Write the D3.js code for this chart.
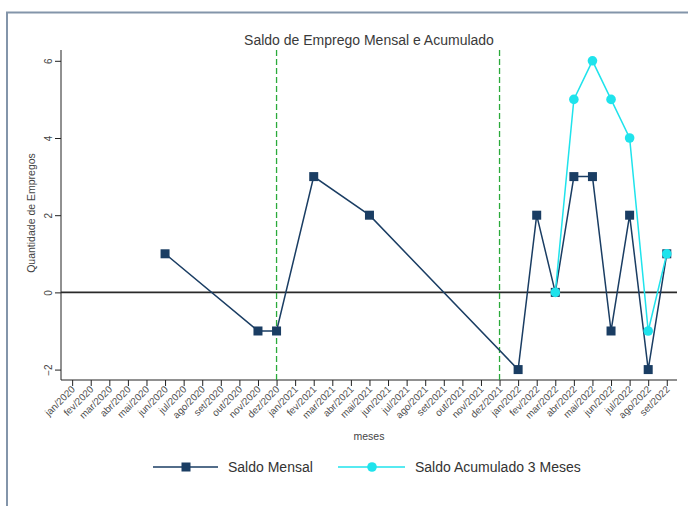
<!DOCTYPE html>
<html>
<head>
<meta charset="utf-8">
<script src="https://cdn.jsdelivr.net/npm/d3@7"></script>
<style>
  html, body { margin: 0; padding: 0; background: #fff; }
  svg { display: block; }
  text { font-family: "Liberation Sans", Arial, sans-serif; }
</style>
</head>
<body>
<svg id="chart" width="688" height="506"></svg>
<script>
const months = ["jan/2020","fev/2020","mar/2020","abr/2020","mai/2020","jun/2020","jul/2020","ago/2020","set/2020","out/2020","nov/2020","dez/2020",
  "jan/2021","fev/2021","mar/2021","abr/2021","mai/2021","jun/2021","jul/2021","ago/2021","set/2021","out/2021","nov/2021","dez/2021",
  "jan/2022","fev/2022","mar/2022","abr/2022","mai/2022","jun/2022","jul/2022","ago/2022","set/2022"];
const saldoMensal = [null,null,null,null,null,1,null,null,null,null,-1,-1,
  null,3,null,null,2,null,null,null,null,null,null,null,
  -2,2,0,3,3,-1,2,-2,1];
const saldoAcum3 = [null,null,null,null,null,null,null,null,null,null,null,null,
  null,null,null,null,null,null,null,null,null,null,null,null,
  null,null,0,5,6,5,4,-1,1];
const yTicks = [-2,0,2,4,6];
const refLines = ["dez/2020","dez/2021"];

const svg = d3.select("#chart");
const navy = "#1a3d63", cyan = "#1fe3ec";

// outer frame
svg.append("rect").attr("x",7).attr("y",12.5).attr("width",700).attr("height",520)
  .attr("fill","#fff").attr("stroke","#8395aa").attr("stroke-width",2);

const x = d3.scaleLinear().domain([-0.6, 32.55]).range([61, 677]);
const y = d3.scaleLinear().domain([-2.27, 6.28]).range([380, 50]);

// title
svg.append("text").attr("x",369).attr("y",45).attr("text-anchor","middle")
  .attr("font-size",14).attr("fill","#3a3a3a").text("Saldo de Emprego Mensal e Acumulado");

// y axis
const yAxis = svg.append("g").attr("transform","translate(61,0)")
  .call(d3.axisLeft(y).tickValues(yTicks).tickSize(6).tickFormat(d3.format("d")));
yAxis.select(".domain").attr("stroke","#222").attr("d","M0,50V380");
yAxis.selectAll(".tick line").attr("stroke","#222");
yAxis.selectAll(".tick text").attr("font-size",10).attr("fill","#444")
  .attr("text-anchor","middle").attr("x",0).attr("dy",0)
  .attr("transform","translate(-13,0) rotate(-90) translate(0,3.5)");

svg.append("text").attr("transform","translate(35,213) rotate(-90)")
  .attr("text-anchor","middle").attr("font-size",10.5).attr("fill","#444")
  .text("Quantidade de Empregos");

// x axis
const xAxis = svg.append("g").attr("transform","translate(0,380)")
  .call(d3.axisBottom(x).tickValues(d3.range(months.length)).tickSize(6).tickFormat(i => months[i]));
xAxis.select(".domain").attr("stroke","#222").attr("d","M61,0H677");
xAxis.selectAll(".tick line").attr("stroke","#222");
xAxis.selectAll(".tick text").attr("font-size",9.8).attr("fill","#505050")
  .attr("text-anchor","end").attr("dy",0).attr("y",0)
  .attr("transform","translate(3,10) rotate(-45)");

svg.append("text").attr("x",369).attr("y",440).attr("text-anchor","middle")
  .attr("font-size",10.5).attr("fill","#444").text("meses");

// zero line
svg.append("line").attr("x1",61).attr("x2",677).attr("y1",y(0)).attr("y2",y(0))
  .attr("stroke","#2a2a2a").attr("stroke-width",1.6);

// reference lines
refLines.forEach(m => {
  const xi = x(months.indexOf(m));
  svg.append("line").attr("x1",xi).attr("x2",xi).attr("y1",50).attr("y2",380)
    .attr("stroke","#2aaa3a").attr("stroke-width",1.3).attr("stroke-dasharray","6,3");
});

// series
const mensalPts = saldoMensal.map((v,i)=>({i,v})).filter(d=>d.v!==null);
const acumPts = saldoAcum3.map((v,i)=>({i,v})).filter(d=>d.v!==null);
const line = d3.line().x(d=>x(d.i)).y(d=>y(d.v));

svg.append("path").datum(mensalPts).attr("d",line).attr("fill","none")
  .attr("stroke",navy).attr("stroke-width",1.5);
svg.selectAll(".sq").data(mensalPts).enter().append("rect")
  .attr("x",d=>x(d.i)-4.5).attr("y",d=>y(d.v)-4.5).attr("width",9).attr("height",9)
  .attr("fill",navy);

svg.append("path").datum(acumPts).attr("d",line).attr("fill","none")
  .attr("stroke",cyan).attr("stroke-width",1.5);
svg.selectAll(".ci").data(acumPts).enter().append("circle")
  .attr("cx",d=>x(d.i)).attr("cy",d=>y(d.v)).attr("r",4.8).attr("fill",cyan);

// legend
const lg = svg.append("g");
lg.append("line").attr("x1",153).attr("x2",218).attr("y1",467).attr("y2",467).attr("stroke",navy).attr("stroke-width",1.5);
lg.append("rect").attr("x",186-4.5).attr("y",467-4.5).attr("width",9).attr("height",9).attr("fill",navy);
lg.append("text").attr("x",228).attr("y",472).attr("font-size",14).attr("fill","#333").text("Saldo Mensal");
lg.append("line").attr("x1",338).attr("x2",405).attr("y1",467).attr("y2",467).attr("stroke",cyan).attr("stroke-width",1.5);
lg.append("circle").attr("cx",372).attr("cy",467).attr("r",4.8).attr("fill",cyan);
lg.append("text").attr("x",415).attr("y",472).attr("font-size",14).attr("fill","#333").text("Saldo Acumulado 3 Meses");
</script>
</body>
</html>
